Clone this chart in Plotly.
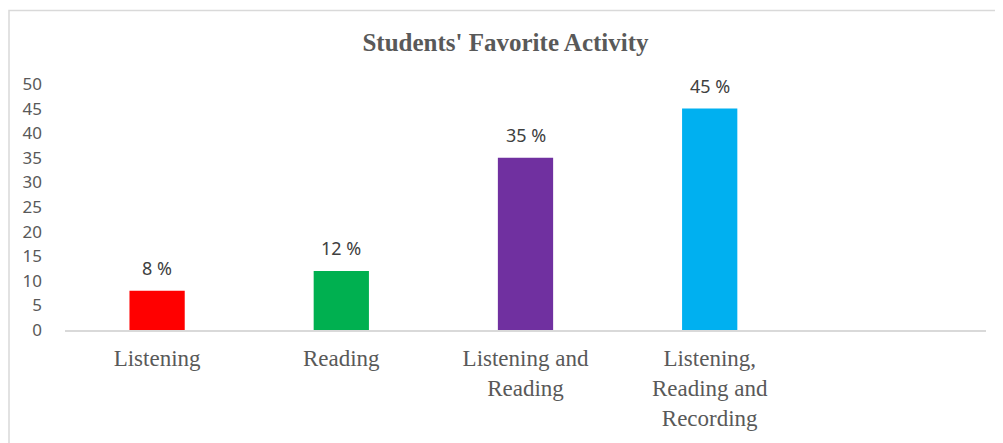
import plotly.graph_objects as go

categories = ["Listening", "Reading", "Listening and<br>Reading", "Listening,<br>Reading and<br>Recording"]
values = [8, 12, 35, 45]
bar_colors = ["#FF0000", "#00B050", "#7030A0", "#00B0F0"]
y_ticks = [0, 5, 10, 15, 20, 25, 30, 35, 40, 45, 50]
title_text = "Students' Favorite Activity"

fig = go.Figure()
fig.add_trace(go.Bar(
    x=categories, y=values, marker=dict(color=bar_colors, line=dict(width=0)),
    width=0.3, showlegend=False, hoverinfo="skip",
))

for c, v in zip(categories, values):
    fig.add_annotation(x=c, y=v, xref="x", yref="y", text=f"{v} %", showarrow=False,
                       yanchor="bottom", yshift=9,
                       font=dict(family="Noto Sans", size=18, color="#404040"))

fig.update_layout(
    width=995, height=435,
    margin=dict(l=57, r=17, t=76, b=108),
    paper_bgcolor="white", plot_bgcolor="white",
    title=dict(text="<b>" + title_text + "</b>", x=0.5, xanchor="center", y=0.922, yanchor="middle",
               font=dict(family="Liberation Serif", size=25, color="#595959")),
    bargap=0.7,
)
fig.update_xaxes(
    type="category", range=[-0.5, 4.5], showgrid=False, zeroline=False,
    showline=True, linecolor="#D9D9D9", linewidth=1.5, ticks="", ticklabelstandoff=7,
    tickfont=dict(family="Liberation Serif", size=23, color="#595959"),
    fixedrange=True,
)
fig.update_yaxes(
    range=[0, 50], tickvals=y_ticks, showgrid=False, zeroline=False, showline=False,
    ticks="", ticklabelstandoff=22,
    tickfont=dict(family="Noto Sans", size=17, color="#595959"),
    fixedrange=True,
)
fig.add_shape(type="rect", xref="paper", yref="paper",
              x0=(1 - 57) / 921, x1=(993 - 57) / 921, y0=(327 - 460) / 251, y1=(327 - 1) / 251,
              line=dict(color="#D9D9D9", width=1.5), fillcolor="rgba(0,0,0,0)", layer="below")

fig.write_html("out.html")
